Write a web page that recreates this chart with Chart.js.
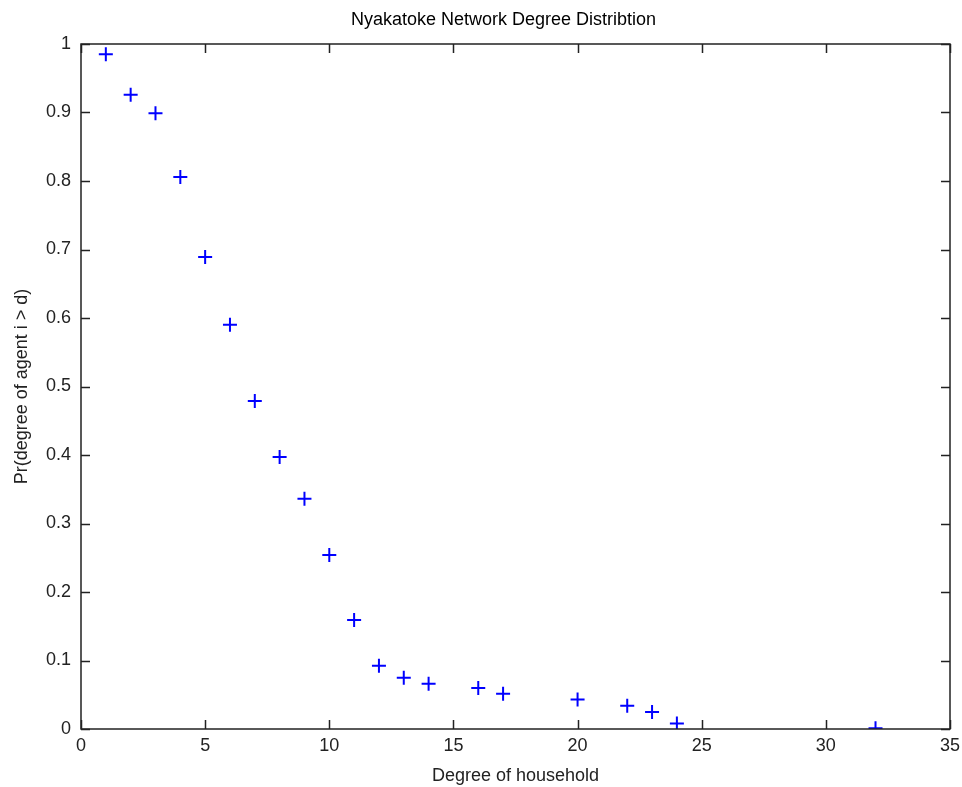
<!DOCTYPE html>
<html>
<head>
<meta charset="utf-8">
<script src="https://cdn.jsdelivr.net/npm/chart.js@4/dist/chart.umd.min.js"></script>
<style>
html,body{margin:0;padding:0;background:#fff;}
#wrap{width:962px;height:787px;}
</style>
</head>
<body>
<div id="wrap"><canvas id="c" width="962" height="787"></canvas></div>
<script>
const titleText = "Nyakatoke Network Degree Distribtion";
const xTitle = "Degree of household";
const yTitle = "Pr(degree of agent i > d)";
const degrees = [1, 2, 3, 4, 5, 6, 7, 8, 9, 10, 11, 12, 13, 14, 16, 17, 20, 22, 23, 24, 32];
const probs = [0.985, 0.926, 0.899, 0.806, 0.689, 0.590, 0.479, 0.397, 0.336, 0.254, 0.159, 0.0925, 0.075, 0.066, 0.060, 0.0515, 0.043, 0.034, 0.025, 0.008, 0.001];
const xRange = [0, 35];
const yRange = [0, 1];
const xStep = 5;
const yStep = 0.1;

const FONT = "'Liberation Sans', Arial, sans-serif";
const INK = "#222";

const boxPlugin = {
  id: 'matlabBox',
  afterDraw(chart) {
    const ctx = chart.ctx;
    const a = chart.chartArea;
    const xs = chart.scales.x, ys = chart.scales.y;
    ctx.save();
    ctx.strokeStyle = INK;
    ctx.lineWidth = 1.5;
    ctx.strokeRect(a.left, a.top, a.right - a.left, a.bottom - a.top);
    const tl = 9;
    ctx.beginPath();
    xs.ticks.forEach(t => {
      const px = Math.round(xs.getPixelForValue(t.value)) + 0.5;
      ctx.moveTo(px, a.bottom); ctx.lineTo(px, a.bottom - tl);
      ctx.moveTo(px, a.top); ctx.lineTo(px, a.top + tl);
    });
    ys.ticks.forEach(t => {
      const py = Math.round(ys.getPixelForValue(t.value)) + 0.5;
      ctx.moveTo(a.left, py); ctx.lineTo(a.left + tl, py);
      ctx.moveTo(a.right, py); ctx.lineTo(a.right - tl, py);
    });
    ctx.stroke();
    ctx.fillStyle = "#000";
    ctx.font = "18px " + FONT;
    ctx.textAlign = "center";
    ctx.textBaseline = "middle";
    ctx.fillText(titleText, (a.left + a.right) / 2 - 12, 20);
    ctx.restore();
  }
};

new Chart(document.getElementById('c'), {
  type: 'scatter',
  data: {
    datasets: [{
      data: degrees.map((d, i) => ({x: d, y: probs[i]})),
      pointStyle: 'cross',
      pointRadius: 7,
      pointHoverRadius: 7,
      borderColor: '#0000ff',
      backgroundColor: '#0000ff',
      pointBorderWidth: 2,
      showLine: false
    }]
  },
  options: {
    responsive: false,
    animation: false,
    events: [],
    layout: {padding: {top: 44, right: 12, left: 0, bottom: 0}},
    plugins: {legend: {display: false}, tooltip: {enabled: false}, title: {display: false}},
    scales: {
      x: {
        type: 'linear', min: xRange[0], max: xRange[1],
        grid: {display: false, drawTicks: false},
        border: {display: false},
        ticks: {stepSize: xStep, color: INK, font: {family: FONT, size: 18}, padding: 6, maxRotation: 0},
        title: {display: true, text: xTitle, color: INK, font: {family: FONT, size: 18}, padding: {top: 0, bottom: 0}},
        afterFit(s) { s.height = 58; s.paddingRight = 0; s.paddingLeft = 0; }
      },
      y: {
        type: 'linear', min: yRange[0], max: yRange[1],
        grid: {display: false, drawTicks: false},
        border: {display: false},
        ticks: {stepSize: yStep, color: INK, font: {family: FONT, size: 18}, padding: 10,
                callback: v => String(+Number(v).toFixed(2))},
        title: {display: true, text: yTitle, color: INK, font: {family: FONT, size: 18}, padding: {top: 11, bottom: 0}},
        afterFit(s) { s.width = 81; s.paddingTop = 0; s.paddingBottom = 0; }
      }
    }
  },
  plugins: [boxPlugin]
});
</script>
</body>
</html>
